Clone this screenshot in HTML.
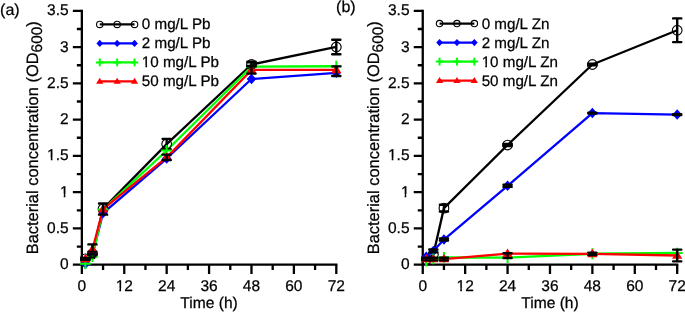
<!DOCTYPE html>
<html><head><meta charset="utf-8"><style>
html,body{margin:0;padding:0;background:#fff;}
svg{display:block;will-change:transform;}
text{font-family:"Liberation Sans",sans-serif;font-size:15.5px;fill:#000;text-rendering:geometricPrecision;stroke:#000;stroke-width:0.25px;}
</style></head><body>
<svg width="685" height="312" viewBox="0 0 685 312">
<rect width="685" height="312" fill="#fff"/>
<path d="M81.85 10.85V264.7H336.3" fill="none" stroke="#000" stroke-width="2.3" stroke-linecap="square"/>
<path d="M81.85 264.7H72.85M81.85 246.57H76.85M81.85 228.44H72.85M81.85 210.3H76.85M81.85 192.17H72.85M81.85 174.04H76.85M81.85 155.91H72.85M81.85 137.77H76.85M81.85 119.64H72.85M81.85 101.51H76.85M81.85 83.38H72.85M81.85 65.25H76.85M81.85 47.11H72.85M81.85 28.98H76.85M81.85 10.85H72.85M81.85 264.7V273.9M103.05 264.7V270M124.26 264.7V273.9M145.46 264.7V270M166.67 264.7V273.9M187.87 264.7V270M209.08 264.7V273.9M230.28 264.7V270M251.48 264.7V273.9M272.69 264.7V270M293.89 264.7V273.9M315.1 264.7V270M336.3 264.7V273.9" stroke="#000" stroke-width="2.3" fill="none"/>
<text x="68.65" y="269.1" text-anchor="end">0</text>
<text x="68.65" y="232.84" text-anchor="end">0.5</text>
<text x="68.65" y="196.57" text-anchor="end">1</text>
<rect x="59.72" y="194.06" width="4" height="4.11" fill="#fff"/><rect x="65.41" y="194.06" width="3.38" height="4.11" fill="#fff"/>
<text x="68.65" y="160.31" text-anchor="end">1.5</text>
<rect x="46.79" y="157.79" width="4" height="4.11" fill="#fff"/><rect x="52.48" y="157.79" width="3.38" height="4.11" fill="#fff"/>
<text x="68.65" y="124.04" text-anchor="end">2</text>
<text x="68.65" y="87.78" text-anchor="end">2.5</text>
<text x="68.65" y="51.51" text-anchor="end">3</text>
<text x="68.65" y="15.25" text-anchor="end">3.5</text>
<text x="81.85" y="290.8" text-anchor="middle">0</text>
<text x="124.26" y="290.8" text-anchor="middle">12</text>
<rect x="115.33" y="288.29" width="4" height="4.12" fill="#fff"/><rect x="121.02" y="288.29" width="3.38" height="4.12" fill="#fff"/>
<text x="166.67" y="290.8" text-anchor="middle">24</text>
<text x="209.08" y="290.8" text-anchor="middle">36</text>
<text x="251.48" y="290.8" text-anchor="middle">48</text>
<text x="293.89" y="290.8" text-anchor="middle">60</text>
<text x="336.3" y="290.8" text-anchor="middle">72</text>
<text x="209.08" y="307.7" text-anchor="middle" style="font-size:15.6px">Time (h)</text>
<text transform="translate(37.95 137.77) rotate(-90)" text-anchor="middle" style="font-size:16.45px">Bacterial concentration (OD<tspan style="font-size:15.4px" dy="3.9">600</tspan><tspan dy="-3.9">)</tspan></text>
<text x="0.1" y="14.6" style="font-size:16.0px">(a)</text>
<polyline points="85.38,258.9 92.45,253.82 103.05,208.85 166.67,144.08 251.48,64.52 336.3,46.97" fill="none" stroke="#000000" stroke-width="2.3" stroke-linejoin="round"/>
<polyline points="85.38,263.83 92.45,254.55 103.05,213.06 166.67,158.52 251.48,79.03 336.3,72.86" fill="none" stroke="#0000ff" stroke-width="2.3" stroke-linejoin="round"/>
<polyline points="85.38,263.83 92.45,256.72 103.05,209.58 166.67,150.47 251.48,66.7 336.3,66.26" fill="none" stroke="#00ff00" stroke-width="2.3" stroke-linejoin="round"/>
<polyline points="85.38,258.9 92.45,249.47 103.05,209.07 166.67,157.36 251.48,69.96 336.3,69.82" fill="none" stroke="#ff0000" stroke-width="2.3" stroke-linejoin="round"/>
<circle cx="85.38" cy="258.9" r="4.85" fill="none" stroke="#000000" stroke-width="1.1"/>
<circle cx="92.45" cy="253.82" r="4.85" fill="none" stroke="#000000" stroke-width="1.1"/>
<circle cx="103.05" cy="208.85" r="4.85" fill="none" stroke="#000000" stroke-width="1.1"/>
<circle cx="166.67" cy="144.08" r="4.85" fill="none" stroke="#000000" stroke-width="1.1"/>
<circle cx="251.48" cy="64.52" r="4.85" fill="none" stroke="#000000" stroke-width="1.1"/>
<circle cx="336.3" cy="46.97" r="4.85" fill="none" stroke="#000000" stroke-width="1.1"/>
<path d="M166.67 138.86V149.31M162.57 138.86H170.77M162.57 149.31H170.77" stroke="#000" stroke-width="2.4" stroke-linecap="round" fill="none"/>
<path d="M251.48 62.35V66.7M247.38 62.35H255.58M247.38 66.7H255.58" stroke="#000" stroke-width="2.4" stroke-linecap="round" fill="none"/>
<path d="M336.3 39.72V54.22M332.2 39.72H340.4M332.2 54.22H340.4" stroke="#000" stroke-width="2.4" stroke-linecap="round" fill="none"/>
<path d="M85.38 258.58L90.11 263.83L85.38 269.08L80.66 263.83Z" fill="#0000ff"/>
<path d="M92.45 249.29L97.18 254.55L92.45 259.8L87.72 254.55Z" fill="#0000ff"/>
<path d="M103.05 207.81L107.78 213.06L103.05 218.31L98.33 213.06Z" fill="#0000ff"/>
<path d="M166.67 153.26L171.4 158.52L166.67 163.77L161.94 158.52Z" fill="#0000ff"/>
<path d="M251.48 73.77L256.21 79.03L251.48 84.28L246.75 79.03Z" fill="#0000ff"/>
<path d="M336.3 67.61L341.03 72.86L336.3 78.12L331.57 72.86Z" fill="#0000ff"/>
<path d="M79.99 263.83H90.78M85.38 258.43V269.23" stroke="#00ff00" stroke-width="2" fill="none"/>
<path d="M87.06 256.72H97.85M92.45 251.33V262.12" stroke="#00ff00" stroke-width="2" fill="none"/>
<path d="M97.66 209.58H108.45M103.05 204.18V214.97" stroke="#00ff00" stroke-width="2" fill="none"/>
<path d="M161.27 150.47H172.06M166.67 145.07V155.86" stroke="#00ff00" stroke-width="2" fill="none"/>
<path d="M246.09 66.7H256.88M251.48 61.3V72.09" stroke="#00ff00" stroke-width="2" fill="none"/>
<path d="M330.9 66.26H341.7M336.3 60.87V71.66" stroke="#00ff00" stroke-width="2" fill="none"/>
<path d="M85.38 253.79L90.5 262.22L80.27 262.22Z" fill="#ff0000"/>
<path d="M92.45 244.36L97.56 252.79L87.34 252.79Z" fill="#ff0000"/>
<path d="M103.05 203.96L108.17 212.39L97.94 212.39Z" fill="#ff0000"/>
<path d="M166.67 152.25L171.78 160.68L161.55 160.68Z" fill="#ff0000"/>
<path d="M251.48 64.85L256.6 73.28L246.37 73.28Z" fill="#ff0000"/>
<path d="M336.3 64.7L341.41 73.14L331.19 73.14Z" fill="#ff0000"/>
<path d="M85.38 258.03V259.77M81.28 258.03H89.48M81.28 259.77H89.48" stroke="#000" stroke-width="2.4" stroke-linecap="round" fill="none"/>
<path d="M92.45 244.39V254.55M88.35 244.39H96.55M88.35 254.55H96.55" stroke="#000" stroke-width="2.4" stroke-linecap="round" fill="none"/>
<path d="M103.05 203.49V214.66M98.95 203.49H107.15M98.95 214.66H107.15" stroke="#000" stroke-width="2.4" stroke-linecap="round" fill="none"/>
<path d="M166.67 154.67V160.04M162.57 154.67H170.77M162.57 160.04H170.77" stroke="#000" stroke-width="2.4" stroke-linecap="round" fill="none"/>
<path d="M251.48 66.33V73.59M247.38 66.33H255.58M247.38 73.59H255.58" stroke="#000" stroke-width="2.4" stroke-linecap="round" fill="none"/>
<path d="M336.3 66.33V76.05M332.2 66.33H340.4M332.2 76.05H340.4" stroke="#000" stroke-width="2.4" stroke-linecap="round" fill="none"/>
<path d="M87.4 251.7H97.5M88.3 253.2A4.2 4.2 0 0 0 96.7 253.2" stroke="#000" stroke-width="2" fill="none"/>
<path d="M251.5 61.8V66M247.4 61.8H255.6M247.4 66H255.6" stroke="#000" stroke-width="2.4" stroke-linecap="round" fill="none"/>
<path d="M99.75 24.4H134.55" stroke="#000000" stroke-width="2.3"/>
<circle cx="99.75" cy="24.4" r="3.2" fill="none" stroke="#000000" stroke-width="1.1"/>
<circle cx="117.15" cy="24.4" r="3.2" fill="none" stroke="#000000" stroke-width="1.1"/>
<circle cx="134.55" cy="24.4" r="3.2" fill="none" stroke="#000000" stroke-width="1.1"/>
<text x="141.85" y="29.4" style="font-size:15.2px">0 mg/L Pb</text>
<path d="M99.75 43.4H134.55" stroke="#0000ff" stroke-width="2.3"/>
<path d="M99.75 39.7L103.08 43.4L99.75 47.1L96.42 43.4Z" fill="#0000ff"/>
<path d="M117.15 39.7L120.48 43.4L117.15 47.1L113.82 43.4Z" fill="#0000ff"/>
<path d="M134.55 39.7L137.88 43.4L134.55 47.1L131.22 43.4Z" fill="#0000ff"/>
<text x="141.85" y="48.4" style="font-size:15.2px">2 mg/L Pb</text>
<path d="M99.75 62.4H134.55" stroke="#00ff00" stroke-width="2.3"/>
<path d="M95.95 62.4H103.55M99.75 58.6V66.2" stroke="#00ff00" stroke-width="2" fill="none"/>
<path d="M113.35 62.4H120.95M117.15 58.6V66.2" stroke="#00ff00" stroke-width="2" fill="none"/>
<path d="M130.75 62.4H138.35M134.55 58.6V66.2" stroke="#00ff00" stroke-width="2" fill="none"/>
<text x="141.85" y="67.4" style="font-size:15.2px">10 mg/L Pb</text>
<rect x="141.55" y="64.92" width="3.92" height="4.08" fill="#fff"/><rect x="147.12" y="64.92" width="3.31" height="4.08" fill="#fff"/>
<path d="M99.75 81.4H134.55" stroke="#ff0000" stroke-width="2.3"/>
<path d="M99.75 77.8L103.35 83.74L96.15 83.74Z" fill="#ff0000"/>
<path d="M117.15 77.8L120.75 83.74L113.55 83.74Z" fill="#ff0000"/>
<path d="M134.55 77.8L138.15 83.74L130.95 83.74Z" fill="#ff0000"/>
<text x="141.85" y="86.4" style="font-size:15.2px">50 mg/L Pb</text>
<path d="M422.75 10.85V264.7H677.2" fill="none" stroke="#000" stroke-width="2.3" stroke-linecap="square"/>
<path d="M422.75 264.7H413.75M422.75 246.57H417.75M422.75 228.44H413.75M422.75 210.3H417.75M422.75 192.17H413.75M422.75 174.04H417.75M422.75 155.91H413.75M422.75 137.77H417.75M422.75 119.64H413.75M422.75 101.51H417.75M422.75 83.38H413.75M422.75 65.25H417.75M422.75 47.11H413.75M422.75 28.98H417.75M422.75 10.85H413.75M422.75 264.7V273.9M443.95 264.7V270M465.16 264.7V273.9M486.36 264.7V270M507.57 264.7V273.9M528.77 264.7V270M549.98 264.7V273.9M571.18 264.7V270M592.38 264.7V273.9M613.59 264.7V270M634.79 264.7V273.9M656 264.7V270M677.2 264.7V273.9" stroke="#000" stroke-width="2.3" fill="none"/>
<text x="409.55" y="269.1" text-anchor="end">0</text>
<text x="409.55" y="232.84" text-anchor="end">0.5</text>
<text x="409.55" y="196.57" text-anchor="end">1</text>
<rect x="400.62" y="194.06" width="4" height="4.11" fill="#fff"/><rect x="406.31" y="194.06" width="3.38" height="4.11" fill="#fff"/>
<text x="409.55" y="160.31" text-anchor="end">1.5</text>
<rect x="387.69" y="157.79" width="4" height="4.11" fill="#fff"/><rect x="393.38" y="157.79" width="3.38" height="4.11" fill="#fff"/>
<text x="409.55" y="124.04" text-anchor="end">2</text>
<text x="409.55" y="87.78" text-anchor="end">2.5</text>
<text x="409.55" y="51.51" text-anchor="end">3</text>
<text x="409.55" y="15.25" text-anchor="end">3.5</text>
<text x="422.75" y="290.8" text-anchor="middle">0</text>
<text x="465.16" y="290.8" text-anchor="middle">12</text>
<rect x="456.23" y="288.29" width="4" height="4.12" fill="#fff"/><rect x="461.92" y="288.29" width="3.38" height="4.12" fill="#fff"/>
<text x="507.57" y="290.8" text-anchor="middle">24</text>
<text x="549.98" y="290.8" text-anchor="middle">36</text>
<text x="592.38" y="290.8" text-anchor="middle">48</text>
<text x="634.79" y="290.8" text-anchor="middle">60</text>
<text x="677.2" y="290.8" text-anchor="middle">72</text>
<text x="549.98" y="307.7" text-anchor="middle" style="font-size:15.6px">Time (h)</text>
<text transform="translate(378.85 137.77) rotate(-90)" text-anchor="middle" style="font-size:16.45px">Bacterial concentration (OD<tspan style="font-size:15.4px" dy="3.9">600</tspan><tspan dy="-3.9">)</tspan></text>
<text x="336.1" y="11.7" style="font-size:16.0px">(b)</text>
<polyline points="426.28,259.62 433.35,254.55 443.95,208.13 507.57,145.03 592.38,64.52 677.2,30.25" fill="none" stroke="#000000" stroke-width="2.3" stroke-linejoin="round"/>
<polyline points="426.28,256.72 433.35,250.92 443.95,239.53 507.57,185.79 592.38,113.12 677.2,114.57" fill="none" stroke="#0000ff" stroke-width="2.3" stroke-linejoin="round"/>
<polyline points="426.28,261.07 433.35,258.9 443.95,257.45 507.57,257.59 592.38,253.75 677.2,253.02" fill="none" stroke="#00ff00" stroke-width="2.3" stroke-linejoin="round"/>
<polyline points="426.28,259.04 433.35,259.04 443.95,259.04 507.57,253.6 592.38,253.82 677.2,255.49" fill="none" stroke="#ff0000" stroke-width="2.3" stroke-linejoin="round"/>
<circle cx="426.28" cy="259.62" r="4.85" fill="none" stroke="#000000" stroke-width="1.1"/>
<circle cx="433.35" cy="254.55" r="4.85" fill="none" stroke="#000000" stroke-width="1.1"/>
<circle cx="443.95" cy="208.13" r="4.85" fill="none" stroke="#000000" stroke-width="1.1"/>
<circle cx="507.57" cy="145.03" r="4.85" fill="none" stroke="#000000" stroke-width="1.1"/>
<circle cx="592.38" cy="64.52" r="4.85" fill="none" stroke="#000000" stroke-width="1.1"/>
<circle cx="677.2" cy="30.25" r="4.85" fill="none" stroke="#000000" stroke-width="1.1"/>
<path d="M426.28 258.54V260.71M422.18 258.54H430.38M422.18 260.71H430.38" stroke="#000" stroke-width="2.4" stroke-linecap="round" fill="none"/>
<path d="M443.95 204.72V211.54M439.85 204.72H448.05M439.85 211.54H448.05" stroke="#000" stroke-width="2.4" stroke-linecap="round" fill="none"/>
<path d="M507.57 143.94V146.12M503.47 143.94H511.67M503.47 146.12H511.67" stroke="#000" stroke-width="2.4" stroke-linecap="round" fill="none"/>
<path d="M592.38 63.8V65.25M588.28 63.8H596.48M588.28 65.25H596.48" stroke="#000" stroke-width="2.4" stroke-linecap="round" fill="none"/>
<path d="M677.2 18.4V42.1M673.1 18.4H681.3M673.1 42.1H681.3" stroke="#000" stroke-width="2.4" stroke-linecap="round" fill="none"/>
<path d="M426.28 251.47L431.01 256.72L426.28 261.98L421.56 256.72Z" fill="#0000ff"/>
<path d="M433.35 245.67L438.08 250.92L433.35 256.17L428.62 250.92Z" fill="#0000ff"/>
<path d="M443.95 234.28L448.68 239.53L443.95 244.79L439.23 239.53Z" fill="#0000ff"/>
<path d="M507.57 180.53L512.3 185.79L507.57 191.04L502.84 185.79Z" fill="#0000ff"/>
<path d="M592.38 107.86L597.11 113.12L592.38 118.37L587.65 113.12Z" fill="#0000ff"/>
<path d="M677.2 109.31L681.93 114.57L677.2 119.82L672.47 114.57Z" fill="#0000ff"/>
<path d="M433.35 249.47V252.37M429.25 249.47H437.45M429.25 252.37H437.45" stroke="#000" stroke-width="2.4" stroke-linecap="round" fill="none"/>
<path d="M443.95 238.44V240.62M439.85 238.44H448.05M439.85 240.62H448.05" stroke="#000" stroke-width="2.4" stroke-linecap="round" fill="none"/>
<path d="M507.57 184.7V186.88M503.47 184.7H511.67M503.47 186.88H511.67" stroke="#000" stroke-width="2.4" stroke-linecap="round" fill="none"/>
<path d="M592.38 112.72V113.51M588.28 112.72H596.48M588.28 113.51H596.48" stroke="#000" stroke-width="2.4" stroke-linecap="round" fill="none"/>
<path d="M677.2 114.17V114.96M673.1 114.17H681.3M673.1 114.96H681.3" stroke="#000" stroke-width="2.4" stroke-linecap="round" fill="none"/>
<path d="M420.89 261.07H431.68M426.28 255.68V266.47" stroke="#00ff00" stroke-width="2" fill="none"/>
<path d="M427.96 258.9H438.75M433.35 253.5V264.29" stroke="#00ff00" stroke-width="2" fill="none"/>
<path d="M438.56 257.45H449.35M443.95 252.05V262.84" stroke="#00ff00" stroke-width="2" fill="none"/>
<path d="M502.17 257.59H512.96M507.57 252.2V262.99" stroke="#00ff00" stroke-width="2" fill="none"/>
<path d="M586.99 253.75H597.78M592.38 248.35V259.14" stroke="#00ff00" stroke-width="2" fill="none"/>
<path d="M671.8 253.02H682.6M677.2 247.63V258.42" stroke="#00ff00" stroke-width="2" fill="none"/>
<path d="M426.28 253.93L431.4 262.37L421.17 262.37Z" fill="#ff0000"/>
<path d="M433.35 253.93L438.46 262.37L428.24 262.37Z" fill="#ff0000"/>
<path d="M443.95 253.93L449.07 262.37L438.84 262.37Z" fill="#ff0000"/>
<path d="M507.57 248.49L512.68 256.93L502.45 256.93Z" fill="#ff0000"/>
<path d="M592.38 248.71L597.5 257.14L587.27 257.14Z" fill="#ff0000"/>
<path d="M677.2 250.38L682.31 258.81L672.09 258.81Z" fill="#ff0000"/>
<path d="M426.28 257.74V260.35M422.18 257.74H430.38M422.18 260.35H430.38" stroke="#000" stroke-width="2.4" stroke-linecap="round" fill="none"/>
<path d="M433.35 257.74V260.35M429.25 257.74H437.45M429.25 260.35H437.45" stroke="#000" stroke-width="2.4" stroke-linecap="round" fill="none"/>
<path d="M443.95 257.74V260.35M439.85 257.74H448.05M439.85 260.35H448.05" stroke="#000" stroke-width="2.4" stroke-linecap="round" fill="none"/>
<path d="M507.57 253.31V258.1M503.47 253.31H511.67M503.47 258.1H511.67" stroke="#000" stroke-width="2.4" stroke-linecap="round" fill="none"/>
<path d="M592.38 252.62V255.02M588.28 252.62H596.48M588.28 255.02H596.48" stroke="#000" stroke-width="2.4" stroke-linecap="round" fill="none"/>
<path d="M677.2 249.61V261.36M673.1 249.61H681.3M673.1 261.36H681.3" stroke="#000" stroke-width="2.4" stroke-linecap="round" fill="none"/>
<path d="M439.55 23.6H474.35" stroke="#000000" stroke-width="2.3"/>
<circle cx="439.55" cy="23.6" r="3.2" fill="none" stroke="#000000" stroke-width="1.1"/>
<circle cx="456.95" cy="23.6" r="3.2" fill="none" stroke="#000000" stroke-width="1.1"/>
<circle cx="474.35" cy="23.6" r="3.2" fill="none" stroke="#000000" stroke-width="1.1"/>
<text x="481.65" y="28.6" style="font-size:15.2px">0 mg/L Zn</text>
<path d="M439.55 42.6H474.35" stroke="#0000ff" stroke-width="2.3"/>
<path d="M439.55 38.9L442.88 42.6L439.55 46.3L436.22 42.6Z" fill="#0000ff"/>
<path d="M456.95 38.9L460.28 42.6L456.95 46.3L453.62 42.6Z" fill="#0000ff"/>
<path d="M474.35 38.9L477.68 42.6L474.35 46.3L471.02 42.6Z" fill="#0000ff"/>
<text x="481.65" y="47.6" style="font-size:15.2px">2 mg/L Zn</text>
<path d="M439.55 61.6H474.35" stroke="#00ff00" stroke-width="2.3"/>
<path d="M435.75 61.6H443.35M439.55 57.8V65.4" stroke="#00ff00" stroke-width="2" fill="none"/>
<path d="M453.15 61.6H460.75M456.95 57.8V65.4" stroke="#00ff00" stroke-width="2" fill="none"/>
<path d="M470.55 61.6H478.15M474.35 57.8V65.4" stroke="#00ff00" stroke-width="2" fill="none"/>
<text x="481.65" y="66.6" style="font-size:15.2px">10 mg/L Zn</text>
<rect x="481.35" y="64.12" width="3.92" height="4.08" fill="#fff"/><rect x="486.92" y="64.12" width="3.31" height="4.08" fill="#fff"/>
<path d="M439.55 80.6H474.35" stroke="#ff0000" stroke-width="2.3"/>
<path d="M439.55 77L443.15 82.94L435.95 82.94Z" fill="#ff0000"/>
<path d="M456.95 77L460.55 82.94L453.35 82.94Z" fill="#ff0000"/>
<path d="M474.35 77L477.95 82.94L470.75 82.94Z" fill="#ff0000"/>
<text x="481.65" y="85.6" style="font-size:15.2px">50 mg/L Zn</text>
</svg>
</body></html>
